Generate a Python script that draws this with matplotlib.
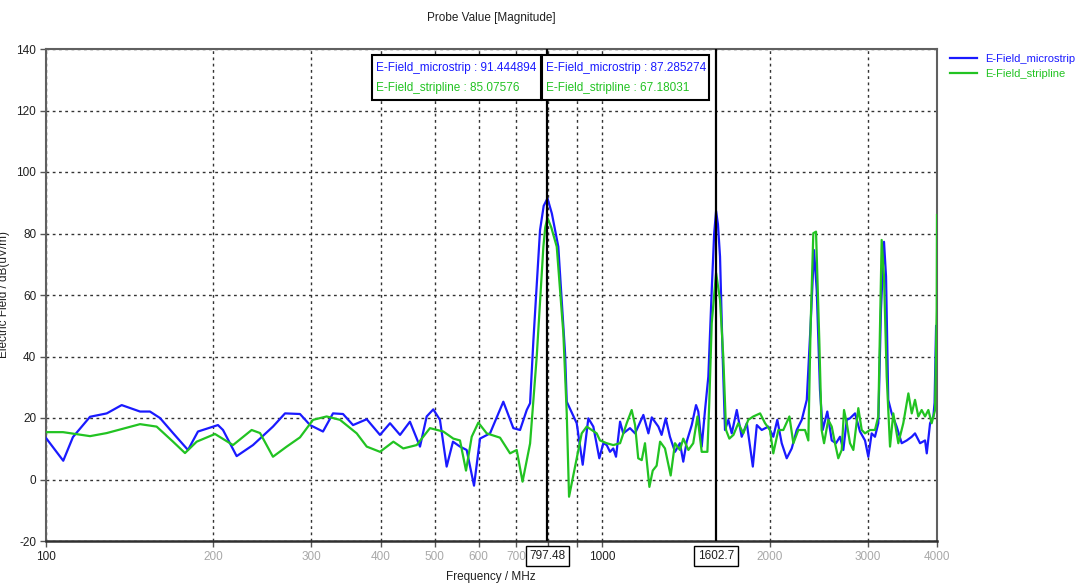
import matplotlib
matplotlib.use("Agg")
import matplotlib.pyplot as plt
from matplotlib.patches import Rectangle
from matplotlib.lines import Line2D

plt.rcParams['font.family'] = ['Liberation Sans', 'DejaVu Sans']
plt.rcParams['axes.unicode_minus'] = False

# ---------------- data ----------------
micro_freq = [100, 107.4, 111.8, 120.0, 128.6, 136.8, 147.6, 153.8, 160.3, 169.2,
              180.0, 187.6, 203.8, 208.1, 220.2, 235.6, 255.9, 269.0, 286.2, 298.4,
              314.8, 328.1, 342.0, 356.5, 377.3, 398.6, 415.5, 433.1, 451.2, 470.4,
              483.6, 497.0, 510.9, 525.3, 539.2, 555.1, 570.7, 588.3, 603.1, 628.6,
              664.2, 692.3, 711.8, 731.8, 742.0, 752.1, 773.2, 785.0, 797.48, 812.0,
              834.0, 857.6, 863.6, 900.0, 922.6, 944.4, 964.1, 988.3, 1004.7, 1019,
              1033, 1047, 1059, 1077, 1091, 1122, 1146, 1186, 1211, 1228,
              1262, 1279, 1301, 1324, 1352, 1380, 1399, 1419, 1449, 1475,
              1489, 1510, 1531, 1552, 1574, 1590, 1602.7, 1615, 1629, 1647,
              1663, 1686, 1710, 1746, 1782, 1820, 1866, 1897, 1936, 1990,
              2031, 2065, 2103, 2147, 2192, 2238, 2285, 2333, 2371, 2404,
              2431, 2464, 2492, 2540, 2587, 2633, 2677, 2714, 2753, 2790,
              2849, 2908, 2969, 3010, 3052, 3094, 3137, 3172, 3212, 3239,
              3269, 3316, 3385, 3456, 3529, 3603, 3652, 3729, 3807, 3834,
              3887, 3940, 3960, 3985, 4000]
micro_val = [13.5, 6.1, 13.8, 20.4, 21.5, 24.2, 22.1, 22.1, 20.0, 15.1,
             9.6, 15.6, 17.7, 16.1, 7.6, 11.2, 17.2, 21.5, 21.3, 17.7,
             15.6, 21.5, 21.3, 17.7, 19.6, 14.5, 18.3, 14.5, 18.8, 10.7,
             20.5, 22.8, 19.4, 4.2, 12.3, 10.7, 9.6, -2.0, 13.3, 15.0,
             25.3, 16.7, 16.1, 22.6, 24.8, 45.0, 81.1, 89.0, 91.444894, 86.5,
             75.7, 41.1, 25.3, 18.3, 4.8, 19.9, 17.2, 6.9, 11.8, 11.2,
             9.0, 10.1, 7.4, 18.8, 15.0, 16.7, 15.0, 21.0, 15.0, 20.2,
             17.2, 14.5, 19.9, 13.9, 9.0, 11.8, 5.8, 12.3, 17.7, 24.2,
             22.1, 10.7, 22.6, 33.4, 61.6, 80.0, 87.285274, 83.0, 72.5, 40.0,
             16.1, 19.4, 15.0, 22.6, 13.9, 18.3, 4.2, 17.7, 16.1, 17.2,
             13.9, 19.4, 11.8, 6.9, 10.1, 16.1, 19.4, 25.9, 50.8, 74.6,
             61.6, 29.1, 16.1, 22.1, 12.7, 11.8, 13.9, 9.6, 19.4, 19.9,
             21.5, 15.6, 12.7, 7.4, 15.0, 13.9, 18.3, 55.2, 77.3, 66.0,
             25.9, 21.5, 17.2, 11.8, 12.7, 13.9, 15.0, 11.8, 12.7, 8.5,
             18.3, 20.5, 25.0, 50.0, 48.0]

strip_freq = [100, 107.3, 120.0, 128.6, 147.6, 158.1, 169.2, 177.8, 186.6, 201.3,
              216.9, 234.3, 242.6, 255.9, 270.9, 286.2, 302.1, 319.6, 337.8, 362.0,
              377.3, 398.6, 421.3, 438.9, 464.0, 490.2, 518.0, 540.0, 555.1, 569.1,
              582.7, 598.9, 620.1, 655.2, 682.9, 702.0, 719.2, 742.0, 762.7, 784.0,
              790.0, 797.48, 810.0, 828.6, 851.5, 863.6, 871.9, 893.8, 918.8, 938.1,
              977.7, 991.1, 1019, 1047, 1077, 1107, 1130, 1146, 1161, 1178,
              1194, 1216, 1233, 1253, 1271, 1297, 1328, 1352, 1380, 1399,
              1429, 1458, 1484, 1510, 1546, 1558, 1574, 1602.7, 1629, 1651,
              1670, 1693, 1722, 1757, 1794, 1831, 1870, 1923, 1963, 2003,
              2031, 2074, 2117, 2171, 2207, 2253, 2316, 2348, 2371, 2397,
              2424, 2457, 2481, 2506, 2550, 2587, 2622, 2658, 2696, 2722,
              2753, 2790, 2829, 2888, 2929, 2969, 3030, 3094, 3137, 3181,
              3212, 3248, 3293, 3338, 3408, 3479, 3553, 3603, 3652, 3702,
              3754, 3807, 3859, 3913, 3968, 3995, 4000]
strip_val = [15.4, 15.4, 14.1, 15.1, 18.0, 17.2, 12.3, 8.6, 12.3, 14.8,
             11.2, 16.1, 15.1, 7.4, 10.7, 13.7, 19.4, 20.5, 19.4, 15.0,
             10.7, 9.0, 12.3, 10.1, 11.2, 16.7, 15.6, 13.3, 12.7, 2.9,
             13.9, 18.5, 15.0, 13.6, 8.5, 9.6, -0.7, 11.7, 40.0, 75.7,
             82.0, 85.07576, 82.0, 75.7, 47.6, 21.5, -5.6, 4.2, 15.0, 17.2,
             15.0, 12.7, 11.8, 11.2, 11.8, 18.3, 22.6, 17.7, 6.9, 6.3,
             11.8, -2.4, 2.9, 4.5, 12.3, 10.1, 1.3, 11.8, 9.6, 13.3,
             9.6, 11.8, 20.5, 9.0, 9.0, 24.8, 50.8, 67.18031, 58.4, 40.0,
             16.1, 13.3, 14.5, 18.3, 15.0, 19.4, 20.5, 21.5, 18.3, 16.1,
             8.5, 16.1, 16.1, 20.5, 11.8, 16.1, 16.1, 12.7, 50.8, 80.1,
             80.6, 45.4, 16.1, 11.8, 19.4, 17.2, 11.8, 6.9, 9.6, 22.6,
             18.3, 11.8, 9.6, 23.2, 16.1, 15.0, 16.1, 16.1, 20.5, 77.9,
             66.0, 33.4, 10.7, 21.5, 11.8, 18.3, 28.0, 21.5, 25.9, 20.5,
             22.6, 20.5, 22.6, 18.3, 22.6, 55.2, 86.0]

markers = [797.48, 1602.7]
marker_micro = ["91.444894", "87.285274"]
marker_strip = ["85.07576", "67.18031"]

xticks = [100, 200, 300, 400, 500, 600, 700, 800, 900, 1000, 2000, 3000, 4000]
xtick_labels = ["100", "200", "300", "400", "500", "600", "700", "", "", "1000", "2000", "3000", "4000"]
yticks = [-20, 0, 20, 40, 60, 80, 100, 120, 140]

BLUE = "#1a1aff"
GREEN = "#22c322"

# ---------------- figure ----------------
fig = plt.figure(figsize=(10.8, 5.85), dpi=100)
ax = fig.add_axes([46/1080, 1-541/585, 891/1080, 492/585])

ax.plot(micro_freq, micro_val, color=BLUE, lw=1.6, label="E-Field_microstrip", zorder=3)
ax.plot(strip_freq, strip_val, color=GREEN, lw=1.6, label="E-Field_stripline", zorder=3)

ax.set_xscale("log")
ax.set_xlim(100, 4000)
ax.set_ylim(-20, 140)
ax.set_xticks(xticks)
ax.set_xticklabels(xtick_labels)
ax.minorticks_off()
ax.set_yticks(yticks)

for lbl in ax.get_xticklabels():
    t = lbl.get_text()
    lbl.set_color("#202020" if t in ("100", "1000") else "#a8a8a8")

ax.tick_params(axis="both", labelsize=8.5, length=4, width=1, color="#555555", pad=3)
ax.tick_params(axis="y", labelcolor="#202020")

for side in ["left", "top", "right"]:
    ax.spines[side].set_color("#606060")
    ax.spines[side].set_linewidth(1.5)
ax.spines["bottom"].set_color("#303030")
ax.spines["bottom"].set_linewidth(1.8)

ax.grid(True, which="major", color="#333333", linestyle=(0, (2, 2.5)), linewidth=1.0, zorder=0)

# marker lines
for m in markers:
    ax.axvline(m, color="black", lw=1.6, zorder=4)

# marker value boxes
boxes = [(0.3659, 0.5556), (0.5567, 0.7441)]
for (x0, x1), mv, sv in zip(boxes, marker_micro, marker_strip):
    ax.add_patch(Rectangle((x0, 0.8963), x1 - x0, 0.0915, transform=ax.transAxes,
                           fill=True, facecolor="white", edgecolor="black", lw=1.5,
                           zorder=5, clip_on=False))
    ax.text(x0 + 0.0045, 0.9614, "E-Field_microstrip : " + mv, color=BLUE,
            fontsize=8.5, transform=ax.transAxes, va="center", ha="left", zorder=6)
    ax.text(x0 + 0.0045, 0.9207, "E-Field_stripline : " + sv, color=GREEN,
            fontsize=8.5, transform=ax.transAxes, va="center", ha="left", zorder=6)

# marker x labels in boxes
trans = ax.get_xaxis_transform()
for m in markers:
    lab = f"{m:g}"
    ax.text(m, -0.0305, lab, transform=trans, ha="center", va="center", fontsize=8.5,
            color="#202020", zorder=6, clip_on=False,
            bbox=dict(boxstyle="square,pad=0.3", facecolor="white", edgecolor="black", lw=1.0))

fig.text(491/1080, 1-18/585, "Probe Value [Magnitude]", ha="center", va="center",
         fontsize=8.5, color="#202020")
fig.text(491/1080, 1-577/585, "Frequency / MHz", ha="center", va="center",
         fontsize=8.5, color="#202020")
fig.text(4/1080, 1-295/585, "Electric Field / dB(uV/m)", rotation=90, ha="center",
         va="center", fontsize=8.5, color="#202020")

handles = [Line2D([0], [0], color=BLUE, lw=1.6), Line2D([0], [0], color=GREEN, lw=1.6)]
fig.legend(handles, ["E-Field_microstrip", "E-Field_stripline"], loc="upper left",
           bbox_to_anchor=(948/1080, 1-52/585), frameon=False, fontsize=8,
           labelcolor=[BLUE, GREEN], handlelength=2.4, handletextpad=0.7,
           labelspacing=0.45, borderaxespad=0, borderpad=0.2)

fig.savefig("out.png", dpi=100)
